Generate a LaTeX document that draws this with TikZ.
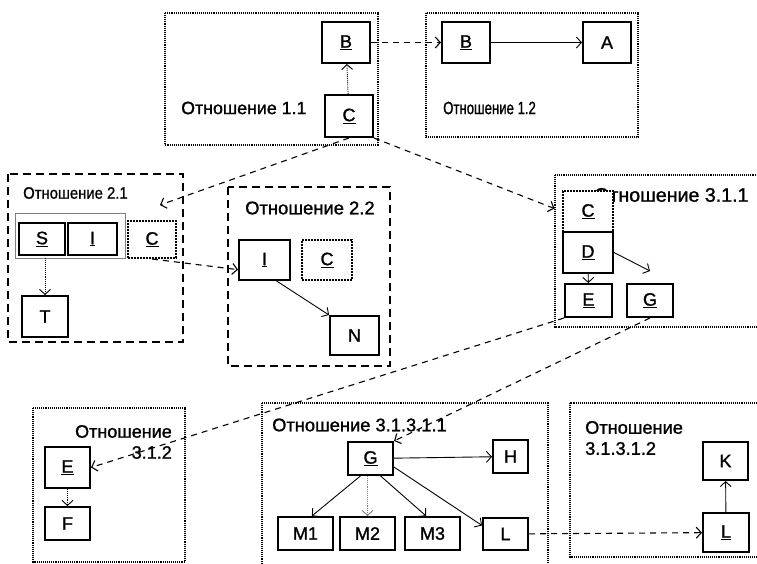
\documentclass[tikz,border=0pt]{standalone}
\usepackage{fontspec}
\setmainfont{Liberation Sans}
\newfontfamily\scanfont{Liberation Sans}[FakeBold=1.2]
\usetikzlibrary{arrows.meta,positioning}

\begin{document}
\begin{tikzpicture}[
  x=1pt, y=-1pt,
  rel/.style={draw, densely dotted, line width=1.1pt},
  reldash/.style={draw, dash pattern=on 8pt off 5pt, line width=1.3pt},
  ent/.style={draw, line width=2pt, fill=white, inner sep=0pt, font=\fontsize{18}{20}\scanfont},
  entdot/.style={ent, densely dotted},
  sz/.style 2 args={minimum width=#1pt, minimum height=#2pt},
  grp/.style={draw, gray, line width=0.8pt},
  title/.style={inner sep=0pt, font=\fontsize{#1}{21}\scanfont},
  arr/.style={-{Straight Barb[length=5pt,width=11pt]}, line width=0.9pt},
  arrdot/.style={arr, densely dotted},
  link/.style={arr, dash pattern=on 6pt off 5pt, line width=1.1pt}
]
  \useasboundingbox (0,0) rectangle (757,564);
  \clip (0,0) rectangle (757,564);

  % relation frames
  \draw[rel] (165,13) rectangle (378,145);
  \draw[rel] (426,13) rectangle (638,137);
  \draw[reldash] (8,174) rectangle (183,342);
  \draw[reldash] (228,187) rectangle (390,366);
  \draw[rel] (555,175) rectangle (770,327);
  \draw[rel] (33,408) rectangle (185,562);
  \draw[rel] (262,403) rectangle (548,570);
  \draw[rel] (570,403) rectangle (770,557);

  % titles
  \node[title=17.8, anchor=west] (t11) at (181,108) {Отношение 1.1};
  \node[title=17.8, anchor=west] (t12) at (443,108) {\scalebox{0.74}[1]{Отношение 1.2}};
  \node[title=16.5, anchor=west] (t21) at (23,193) {\scalebox{0.9}[1]{Отношение 2.1}};
  \node[title=18.4, anchor=west] (t22) at (245,208) {Отношение 2.2};
  \node[title=19.6, anchor=west] (t311) at (594,195) {Отношение 3.1.1};
  \node[title=18, anchor=east, align=right] (t312) at (172,442) {Отношение\\3.1.2};
  \node[title=18.3, anchor=west] (t3111) at (272,425) {Отношение 3.1.3.1.1};
  \node[title=18.2, anchor=west, align=left] (t3112) at (585,438) {Отношение\\3.1.3.1.2};

  % relation 1.1 and 1.2
  \node[ent, sz={48}{41}] (b11) at (346,42.5) {\underline{B}};
  \node[ent, sz={48}{42}] (c11) at (349,116) {\underline{C}};
  \node[ent, sz={48}{41}] (b12) at (466,42.5) {\underline{B}};
  \node[ent, sz={48}{41}] (a12) at (607,42.5) {A};

  % relation 2.1
  \node[grp, sz={110}{45}] (grp) at (70,235.5) {};
  \node[ent, sz={46}{32}] (s21) at (42,239) {\underline{S}};
  \node[ent, sz={49}{32}] (i21) at (92.5,239) {\underline{I}};
  \node[entdot, sz={48}{37}] (c21) at (152,239.5) {\underline{C}};
  \node[ent, sz={46}{41}] (t21) at (45,316.5) {T};

  % relation 2.2
  \node[ent, sz={51}{40}] (i22) at (264.5,260) {\underline{I}};
  \node[entdot, sz={50}{40}] (c22) at (327,260) {\underline{C}};
  \node[ent, sz={49}{39}] (n22) at (354.5,335.5) {N};

  % relation 3.1.1
  \node[entdot, sz={50}{41}] (c311) at (588,211.5) {\underline{C}};
  \node[ent, sz={50}{41}] (d311) at (588,252.5) {\underline{D}};
  \node[ent, sz={47}{33}] (e311) at (588.5,300.5) {\underline{E}};
  \node[ent, sz={46}{33}] (g311) at (650,300.5) {\underline{G}};

  % relation 3.1.2
  \node[ent, sz={45}{41}] (e312) at (67.5,467.5) {\underline{E}};
  \node[ent, sz={45}{33}] (f312) at (67.5,523.5) {F};

  % relation 3.1.3.1.1
  \node[ent, sz={45}{33}] (g3111) at (370.5,458.5) {\underline{G}};
  \node[ent, sz={35}{33}] (h3111) at (510.5,456.5) {H};
  \node[ent, sz={55}{33}] (m1) at (305.5,533.5) {M1};
  \node[ent, sz={55}{33}] (m2) at (367.5,533.5) {M2};
  \node[ent, sz={55}{33}] (m3) at (432.5,533.5) {M3};
  \node[ent, sz={45}{32}] (l3111) at (505.5,534) {L};

  % relation 3.1.3.1.2
  \node[ent, sz={45}{38}] (k) at (725.5,461) {K};
  \node[ent, sz={46}{39}] (l3112) at (726,532.5) {\underline{L}};

  % links inside relations
  \draw[arrdot] (c11) -- (b11);
  \draw[arr] (b12) -- (a12);
  \draw[arrdot] (t21.north |- grp.south) -- (t21.north);
  \draw[arr] (i22.-60) -- (n22.north west);
  \draw[arr] (d311) -- (e311);
  \draw[arr] (d311.east) -- ([yshift=12pt]g311.north);
  \draw[arrdot] (e312) -- (f312);
  \draw[arr] (g3111) -- (h3111);
  \draw[arr] (g3111.-120) -- (m1.70);
  \draw[arrdot, gray] (m2.north |- g3111.south) -- (m2.north);
  \draw[arr] (g3111.-60) -- (m3.110);
  \draw[arr] (g3111.-20) -- (l3111.160);
  \draw[arr] (l3112) -- (k);

  % links between relations
  \draw[link] (b11) -- (b12);
  \draw[link] (c11.south) -- ([xshift=8pt,yshift=15pt]c21.north);
  \draw[link, shorten >=8pt] (c11.south east) -- (c311.west);
  \draw[link] (c21.south) -- (i22.-160);
  \draw[link] (e311.south west) -- (e312.east);
  \draw[link] (g311.south) -- (g3111.north east);
  \draw[link] (l3111) -- (l3112);
\end{tikzpicture}
\end{document}
